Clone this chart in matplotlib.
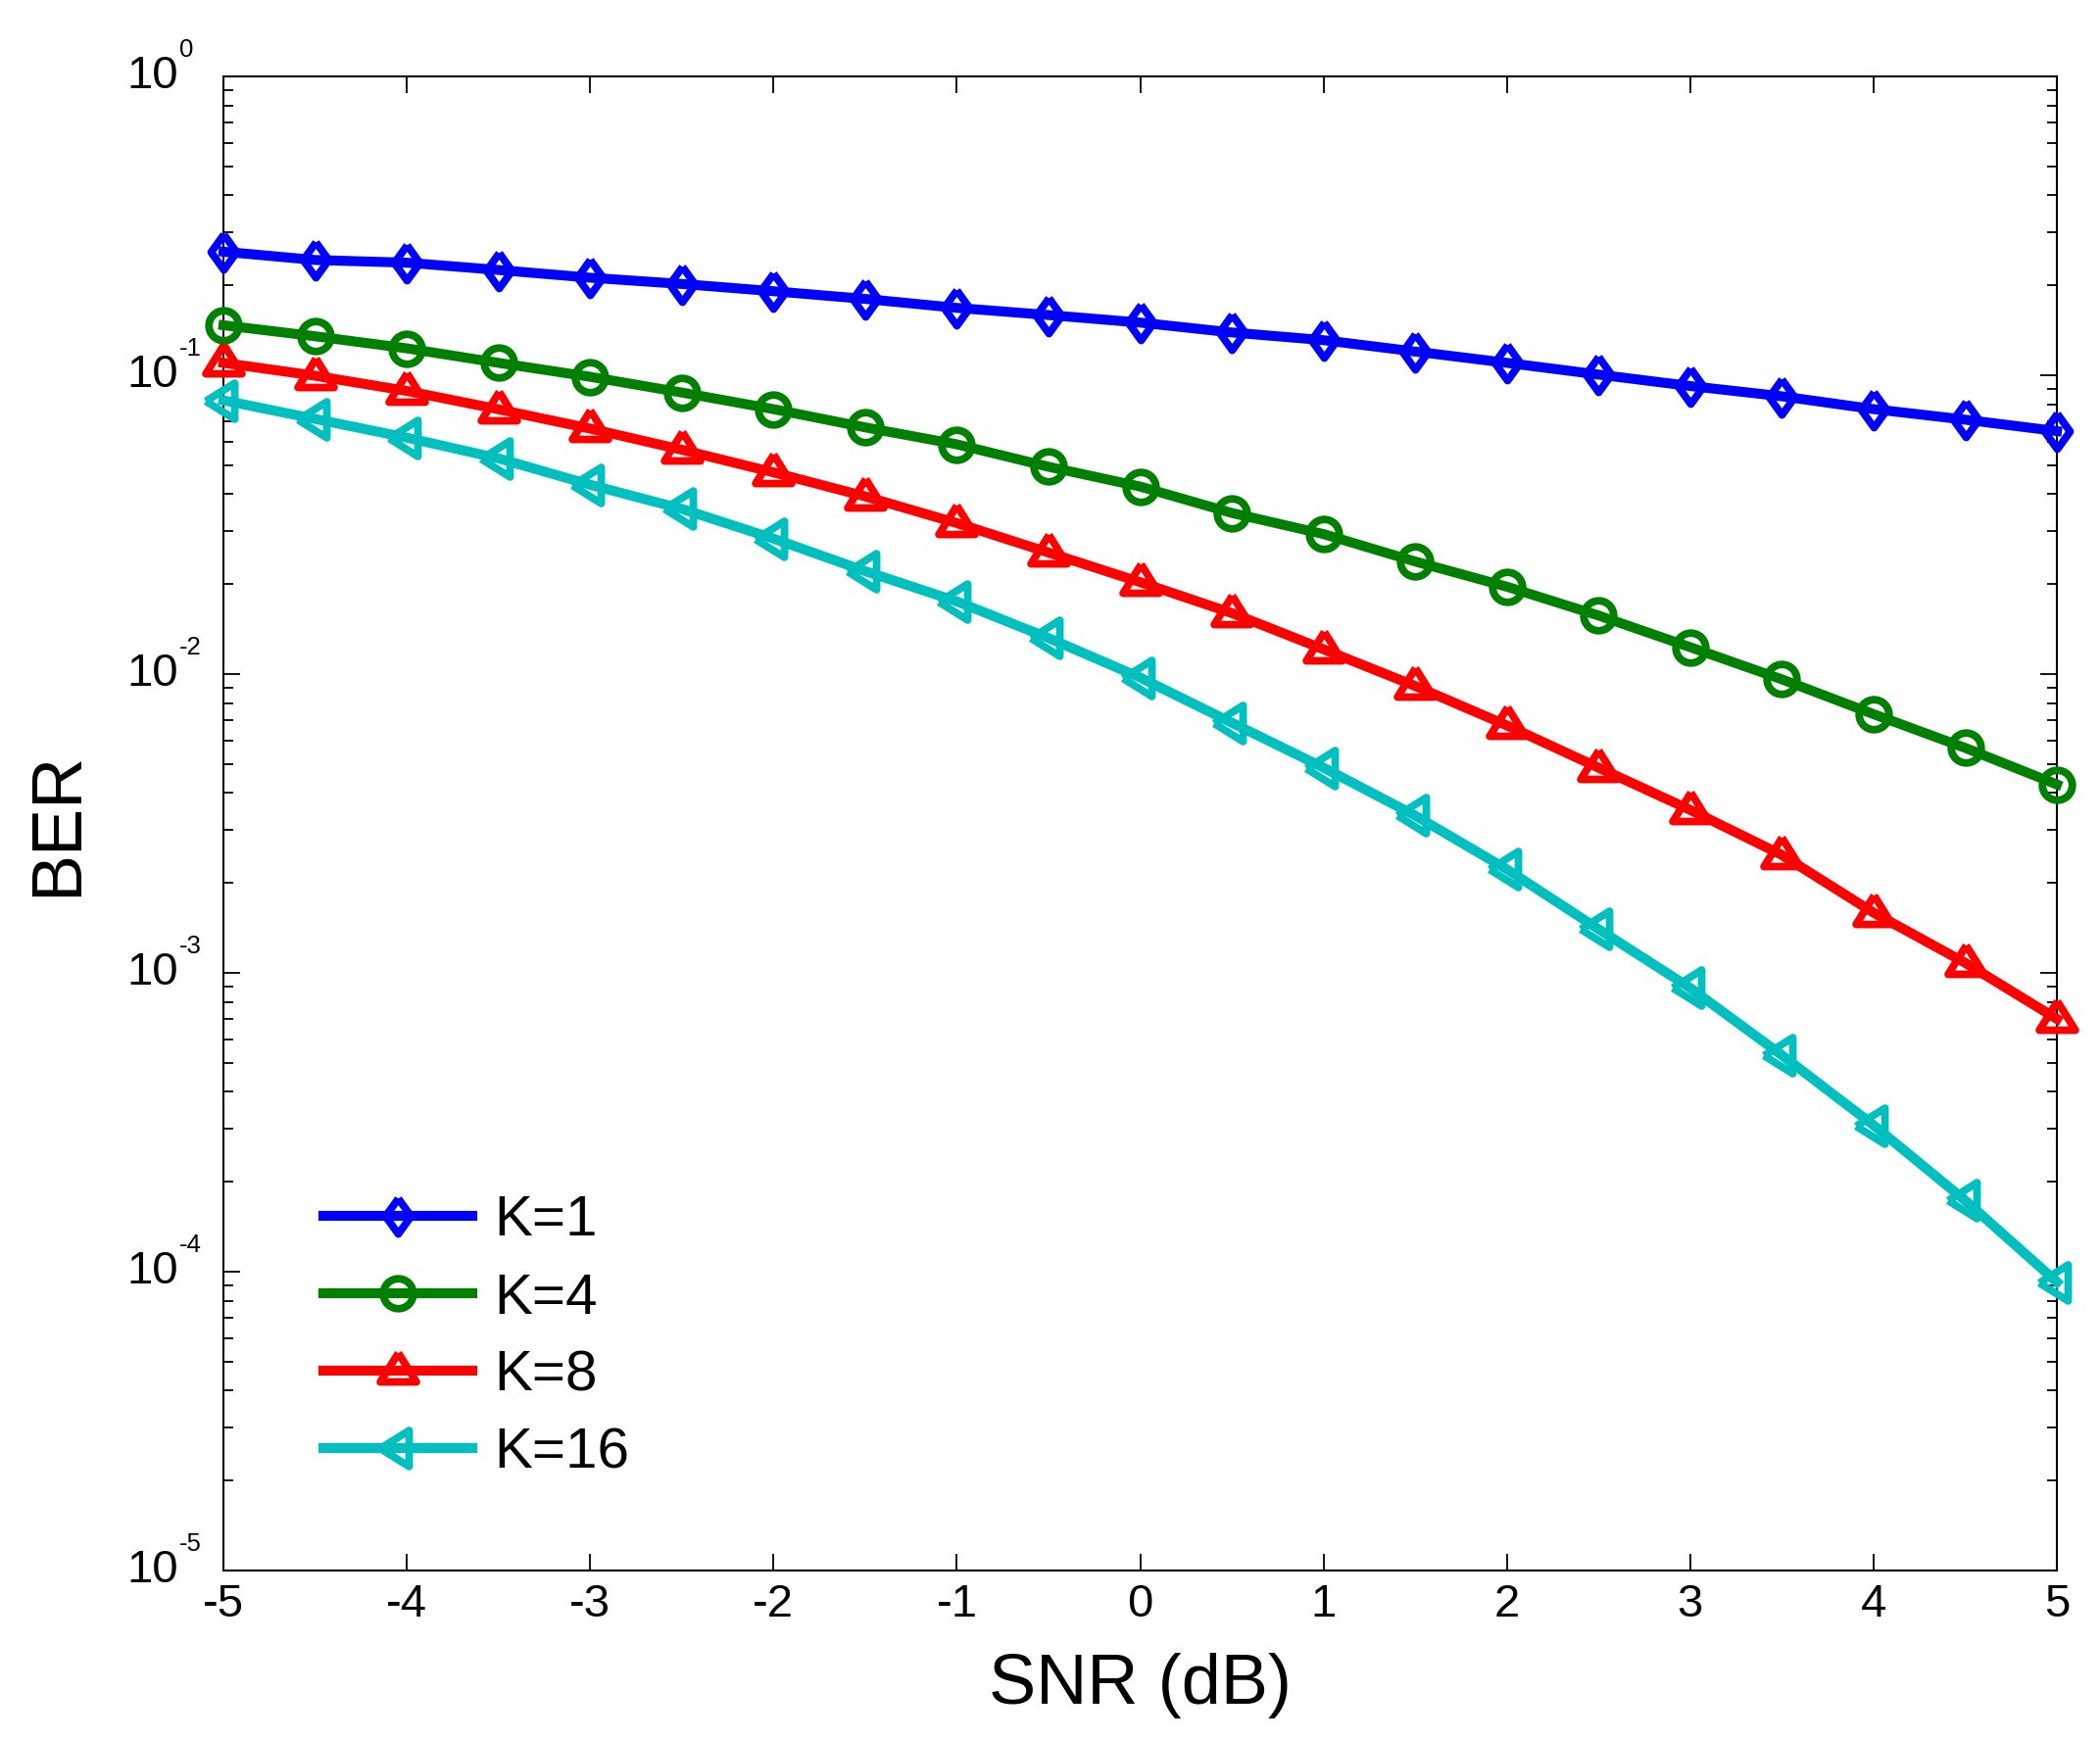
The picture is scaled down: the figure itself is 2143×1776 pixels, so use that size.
import matplotlib
matplotlib.use('Agg')
import matplotlib.pyplot as plt
from matplotlib.markers import MarkerStyle
from matplotlib.ticker import LogLocator, FixedLocator, NullFormatter
from matplotlib.transforms import offset_copy

plt.rcParams['font.family'] = ['Liberation Sans', 'DejaVu Sans']
plt.rcParams['axes.unicode_minus'] = False

# ---------------- data ----------------
snr_db = [-5, -4.5, -4, -3.5, -3, -2.5, -2, -1.5, -1, -0.5, 0,
          0.5, 1, 1.5, 2, 2.5, 3, 3.5, 4, 4.5, 5]
ber_k1 = [0.259, 0.243, 0.238, 0.225, 0.212, 0.202, 0.191, 0.180, 0.168, 0.159, 0.150,
          0.139, 0.131, 0.120, 0.110, 0.1005, 0.092, 0.085, 0.077, 0.071, 0.065]
ber_k4 = [0.147, 0.135, 0.123, 0.110, 0.0988, 0.0875, 0.077, 0.0669, 0.0587, 0.0494, 0.0424,
          0.0346, 0.0294, 0.0238, 0.0196, 0.0157, 0.0123, 0.0096, 0.00734, 0.00566, 0.00427]
ber_k8 = [0.110, 0.0996, 0.0886, 0.0769, 0.0663, 0.0563, 0.0473, 0.0393, 0.0320, 0.0255, 0.0203,
          0.0160, 0.0121, 0.00912, 0.00673, 0.00486, 0.00351, 0.00248, 0.00159, 0.00108, 0.000701]
ber_k16 = [0.0824, 0.0714, 0.0618, 0.0527, 0.0430, 0.0357, 0.0284, 0.0221, 0.0175, 0.0132, 0.00973,
           0.00687, 0.00486, 0.00336, 0.00222, 0.00140, 0.00089, 0.00053, 0.000309, 0.000173, 0.0000923]
series_labels = ['K=1', 'K=4', 'K=8', 'K=16']
x_ticks = [-5, -4, -3, -2, -1, 0, 1, 2, 3, 4, 5]
y_ticks = [1e-5, 1e-4, 1e-3, 1e-2, 1e-1, 1e0]
y_tick_base = ['10', '10', '10', '10', '10', '10']
y_tick_exponents = ['-5', '-4', '-3', '-2', '-1', '0']
x_label = 'SNR (dB)'
y_label = 'BER'

# ---------------- styles ----------------
diamond = MarkerStyle([(0, 1), (0.72, 0), (0, -1), (-0.72, 0), (0, 1)], joinstyle='miter')
tri_up = MarkerStyle([(0, 1), (1, -0.6), (-1, -0.6), (0, 1)], joinstyle='miter')
tri_left = MarkerStyle([(-1, 0), (0.6, 1), (0.6, -1), (-1, 0)], joinstyle='miter')
styles = [
    dict(color=(0, 0, 1), marker=diamond, ms=26),
    dict(color=(0, 0.5, 0), marker='o', ms=22),
    dict(color=(1, 0, 0), marker=tri_up, ms=26.5),
    dict(color=(0, 0.75, 0.75), marker=tri_left, ms=26.5),
]

fig = plt.figure(figsize=(21.43, 17.76), dpi=100)
ax = fig.add_axes([0.1064, 0.0974, 0.8731, 0.8587])

for ys, lab, st in zip([ber_k1, ber_k4, ber_k8, ber_k16], series_labels, styles):
    ax.plot(snr_db, ys, color=st['color'], lw=7.3, marker=st['marker'], ms=st['ms'],
            mfc='none', mec=st['color'], mew=5.6, label=lab, clip_on=False, zorder=3)

ax.set_yscale('log')
ax.set_xlim(-5, 5)
ax.set_ylim(1e-5, 1e0)
ax.xaxis.set_major_locator(FixedLocator(x_ticks))
ax.yaxis.set_major_locator(FixedLocator(y_ticks))
ax.yaxis.set_minor_locator(LogLocator(base=10, subs=range(2, 10), numticks=20))
ax.yaxis.set_minor_formatter(NullFormatter())
ax.set_yticklabels(y_tick_base, va='center')

for s in ax.spines.values():
    s.set_linewidth(1.5)
ax.tick_params(which='both', direction='in', top=True, right=True, width=1.3)
ax.tick_params(which='major', length=12)
ax.tick_params(which='minor', length=7)
ax.tick_params(axis='x', labelsize=34, pad=9)
ax.tick_params(axis='y', labelsize=34, pad=33)

# superscript exponents of the y tick labels
exp_tr = offset_copy(ax.get_yaxis_transform(), fig=fig, x=-32.4, y=14.4, units='points')
for yt, ex in zip(y_ticks, y_tick_exponents):
    ax.text(0, yt, ex, transform=exp_tr, fontsize=18.5, ha='left', va='baseline', clip_on=False)

ax.set_xlabel(x_label, fontsize=52, labelpad=20)
ax.set_ylabel(y_label, fontsize=52, labelpad=26)

ax.legend(loc='upper left', bbox_to_anchor=(0.0545, 0.2515), frameon=False, fontsize=42,
          handlelength=2.6, handletextpad=0.38, labelspacing=0.43, borderpad=0,
          borderaxespad=0, numpoints=1)

fig.savefig('out.png', dpi=100)
